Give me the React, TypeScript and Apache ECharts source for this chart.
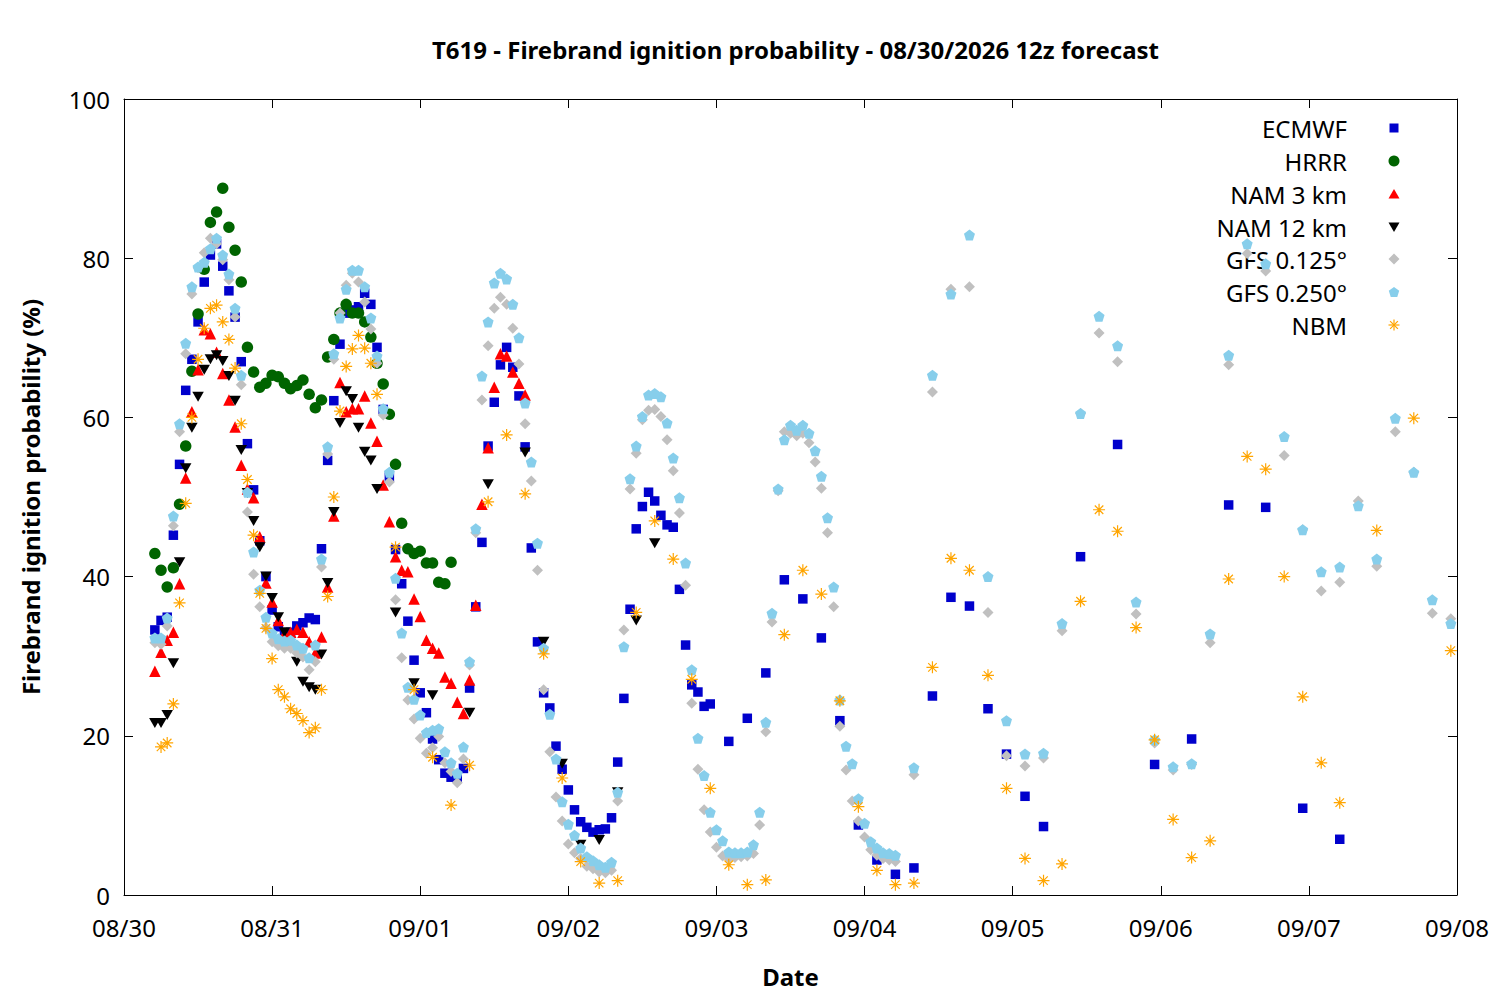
import React, { useEffect, useRef } from "react";
import * as echarts from "echarts";

// x axis: hours since 08/30 00:00 local; forecast hour 0 (12z) = 05:00 local
const runStartHour = 5;
const dateLabels = ["08/30", "08/31", "09/01", "09/02", "09/03", "09/04", "09/05", "09/06", "09/07", "09/08"];

// ECMWF: hourly f0..f90, then 3-hourly, then 6-hourly
const ecmwfHourly = [
  33.3, 34.5, 34.9, 45.2, 54.1, 63.4, 67.3, 72.0, 77.0, 80.4, 81.8, 79.0, 75.9, 72.6, 67.0, 56.7, 50.9, 44.5, 40.0, 35.8,
  33.7, 32.9, 33.0, 33.8, 34.2, 34.8, 34.6, 43.5, 54.6, 62.1, 69.2, 73.1, 73.5, 73.9, 75.6, 74.2, 68.8, 61.0, 52.5, 43.4,
  39.1, 34.4, 29.5, 25.4, 22.9, 19.6, 17.0, 15.3, 14.8, 14.8, 15.9, 26.0, 36.2, 44.3, 56.4, 61.9, 66.6, 68.8, 66.3, 62.7,
  56.3, 43.6, 31.8, 25.4, 23.5, 18.7, 15.8, 13.2, 10.7, 9.2, 8.5, 7.9, 8.2, 8.3, 9.7, 16.7, 24.7, 35.9, 46.0, 48.8,
  50.6, 49.5, 47.7, 46.5, 46.2, 38.4, 31.4, 26.4, 25.5, 23.7, 24.0,
];
const ecmwfLaterHours = [93, 96, 99, 102, 105, 108, 111, 114, 117, 120, 123, 126, 129, 132, 135, 138, 141, 144, 150, 156, 162, 168, 174, 180, 186, 192];
const ecmwfLaterValues = [19.3, 22.2, 27.9, 39.6, 37.2, 32.3, 21.9, 8.8, 4.4, 2.6, 3.4, 25.0, 37.4, 36.3, 23.4, 17.7, 12.4, 8.6, 42.5, 56.6, 16.4, 19.6, 49.0, 48.7, 10.9, 7.0];

// HRRR: hourly f0..f48
const hrrrValues = [
  42.9, 40.8, 38.7, 41.1, 49.1, 56.4, 65.8, 73.0, 78.6, 84.5, 85.8, 88.8, 83.9, 81.0, 77.0, 68.8, 65.7, 63.8, 64.3, 65.3,
  65.1, 64.3, 63.6, 64.0, 64.7, 62.9, 61.2, 62.2, 67.6, 69.8, 73.1, 74.2, 73.1, 73.1, 72.0, 70.1, 66.8, 64.2, 60.4, 54.1,
  46.7, 43.5, 42.9, 43.2, 41.7, 41.7, 39.3, 39.1, 41.8,
];

// NAM 3 km: hourly f0..f60
const nam3Values = [
  28.1, 30.5, 32.0, 33.0, 39.1, 52.4, 60.7, 66.0, 71.0, 70.5, 68.2, 65.5, 62.2, 58.8, 54.0, 51.0, 49.9, 45.0, 39.2, 36.8,
  34.5, 32.8, 33.0, 33.4, 33.0, 31.8, 30.4, 32.4, 38.7, 47.6, 64.4, 60.7, 61.1, 61.1, 62.7, 59.3, 57.0, 51.5, 46.9, 42.5,
  40.8, 40.6, 37.2, 35.0, 32.0, 31.0, 30.4, 27.4, 26.6, 24.2, 22.8, 27.0, 36.4, 49.1, 56.2, 63.8, 68.0, 67.7, 65.7, 64.3,
  62.8,
];

// NAM 12 km: hourly f0..f36, then 3-hourly
const nam12Hourly = [
  21.6, 21.6, 22.6, 29.1, 41.8, 53.6, 58.7, 62.6, 66.0, 67.3, 67.8, 67.1, 65.2, 62.1, 55.9, 50.5, 47.0, 43.7, 40.0, 37.3,
  34.9, 33.0, 31.0, 29.3, 26.8, 26.1, 25.8, 30.2, 39.2, 48.1, 59.3, 63.3, 62.3, 58.7, 55.7, 54.6, 51.0,
];
const nam12LaterHours = [39, 42, 45, 51, 54, 60, 63, 66, 69, 72, 75, 78, 81];
const nam12LaterValues = [35.5, 26.6, 25.1, 22.9, 51.6, 55.6, 31.8, 16.5, 6.3, 6.9, 12.9, 34.5, 44.2];

// GFS 0.125°: hourly f0..f120, then 3-hourly
const gfs125Hourly = [
  31.7, 31.5, 33.8, 46.4, 58.2, 68.0, 75.5, 78.8, 80.7, 82.5, 81.8, 79.8, 77.3, 72.6, 64.1, 48.1, 40.3, 36.2, 33.6, 31.8,
  31.3, 31.0, 31.0, 30.4, 29.9, 28.3, 29.3, 41.2, 55.4, 67.3, 73.1, 76.6, 78.1, 77.0, 74.5, 71.1, 66.8, 60.3, 51.9, 37.1,
  29.8, 24.5, 22.1, 19.7, 17.8, 18.5, 19.9, 16.6, 15.5, 14.1, 17.1, 28.9, 45.5, 62.2, 69.0, 73.7, 75.1, 74.2, 71.2, 66.7,
  59.2, 52.0, 40.8, 25.8, 18.0, 12.3, 9.3, 6.4, 5.3, 4.6, 3.6, 3.3, 2.9, 2.8, 3.1, 11.8, 33.3, 51.0, 55.5, 59.7,
  60.9, 61.0, 60.1, 57.2, 53.3, 48.0, 38.9, 24.1, 15.8, 10.7, 7.9, 6.0, 4.9, 4.6, 4.7, 4.8, 4.9, 5.2, 8.8, 20.5,
  34.3, 50.8, 58.2, 58.0, 57.7, 58.0, 56.8, 54.4, 51.1, 45.5, 36.2, 21.2, 15.7, 11.8, 9.3, 7.3, 5.7, 5.0, 4.6, 4.4,
  4.2,
];
const gfsLaterHours = [123, 126, 129, 132, 135, 138, 141, 144, 147, 150, 153, 156, 159, 162, 165, 168, 171, 174, 177, 180, 183, 186, 189, 192, 195, 198, 201, 204, 207, 210];
const gfs125Later = [15.1, 63.2, 76.1, 76.4, 35.5, 17.5, 16.2, 17.2, 33.2, 60.5, 70.6, 67.0, 35.3, 19.1, 15.7, 16.4, 31.7, 66.6, 80.6, 78.4, 55.2, 45.9, 38.2, 39.3, 49.5, 41.3, 58.2, 53.1, 35.4, 34.7];

// GFS 0.250°: hourly f0..f120, then 3-hourly
const gfs250Hourly = [
  32.3, 32.3, 34.8, 47.6, 59.2, 69.3, 76.4, 78.9, 79.5, 81.2, 82.5, 80.4, 78.0, 73.7, 65.3, 50.6, 43.1, 38.3, 34.9, 32.9,
  32.2, 31.9, 32.0, 31.4, 31.0, 29.8, 31.4, 42.2, 56.3, 68.0, 72.5, 76.1, 78.5, 78.5, 76.4, 72.5, 67.7, 61.1, 53.1, 39.8,
  32.9, 26.1, 24.6, 22.6, 20.4, 20.7, 20.9, 18.0, 16.6, 15.3, 18.6, 29.3, 46.0, 65.2, 72.0, 76.9, 78.1, 77.4, 74.2, 70.0,
  61.8, 54.4, 44.2, 31.0, 22.7, 17.1, 11.7, 8.9, 7.5, 5.9, 4.8, 4.3, 3.8, 3.5, 4.1, 12.9, 31.2, 52.3, 56.4, 60.1,
  62.8, 63.0, 62.6, 59.3, 54.9, 49.9, 41.7, 28.3, 19.7, 15.0, 10.4, 8.2, 6.8, 5.4, 5.3, 5.3, 5.4, 6.3, 10.4, 21.7,
  35.4, 51.0, 57.2, 59.0, 58.4, 59.0, 58.0, 55.8, 52.6, 47.4, 38.7, 24.5, 18.7, 16.5, 12.1, 9.0, 6.7, 5.9, 5.3, 5.2,
  5.0,
];
const gfs250Later = [16.0, 65.3, 75.5, 82.9, 40.0, 21.9, 17.7, 17.8, 34.1, 60.5, 72.7, 69.0, 36.8, 19.5, 16.1, 16.5, 32.8, 67.8, 81.8, 79.3, 57.6, 45.9, 40.6, 41.2, 48.9, 42.2, 59.9, 53.1, 37.1, 34.1];

// NBM: hourly f1..f36, then 3-hourly, then 6-hourly
const nbmHourly = [
  18.6, 19.1, 24.0, 36.7, 49.2, 60.0, 67.3, 71.2, 73.7, 74.1, 72.0, 69.8, 66.2, 59.2, 52.2, 45.2, 37.9, 33.5, 29.7, 25.8,
  24.9, 23.4, 22.8, 21.9, 20.4, 21.0, 25.8, 37.5, 50.0, 60.8, 66.4, 68.6, 70.3, 68.7, 66.8, 62.9,
];
const nbmLaterHours = [
  39, 42, 45, 48, 51, 54, 57, 60, 63, 66, 69, 72, 75, 78, 81, 84, 87, 90, 93, 96, 99, 102, 105, 108, 111, 114, 117, 120,
  123, 126, 129, 132, 135, 138, 141, 144, 147, 150, 153, 156, 159, 162, 165, 168, 171, 174, 177, 180, 183, 186, 189, 192,
  198, 204, 210,
];
const nbmLaterValues = [
  43.7, 25.8, 17.3, 11.3, 16.3, 49.4, 57.8, 50.4, 30.3, 14.7, 4.2, 1.5, 1.8, 35.5, 47.0, 42.2, 27.1, 13.4, 3.8, 1.3,
  1.9, 32.7, 40.8, 37.8, 24.4, 11.1, 3.1, 1.3, 1.5, 28.6, 42.3, 40.8, 27.6, 13.4, 4.6, 1.8, 3.9, 36.9, 48.4, 45.7,
  33.6, 19.5, 9.5, 4.7, 6.8, 39.7, 55.1, 53.5, 40.0, 24.9, 16.6, 11.6, 45.8, 59.9, 30.7,
];

const FONT = "Noto Sans";
const FS = 24;

const hourly = (values: number[], firstHour = 0) => values.map((v, i) => [firstHour + i + runStartHour, v]);
const stepped = (hours: number[], values: number[]) => hours.map((h, i) => [h + runStartHour, values[i]]);

const PENTAGON = "path://M5,0 L10,3.63 L8.09,9.51 L1.91,9.51 L0,3.63 Z";
const INV_TRI = "path://M0,0 L10,0 L5,8.66 Z";
const ASTERISK = "path://M0,5 L10,5 M5,0 L5,10 M1.46,1.46 L8.54,8.54 M1.46,8.54 L8.54,1.46";

const COLORS = {
  ecmwf: "#0000cc",
  hrrr: "#006400",
  nam3: "#ff0000",
  nam12: "#000000",
  gfs125: "#c0c0c0",
  gfs250: "#87ceeb",
  nbm: "#ffa500",
};

const legendNames = ["ECMWF", "HRRR", "NAM 3 km", "NAM 12 km", "GFS 0.125°", "GFS 0.250°", "NBM"];

function buildLegendGraphics() {
  const textX = 1347;
  const symX = 1394;
  const rows = [128, 161, 194, 227, 259, 292, 325];
  const els: any[] = [];
  legendNames.forEach((name, i) => {
    els.push({
      type: "text",
      x: textX,
      y: rows[i],
      style: { text: name, align: "right", verticalAlign: "middle", fontSize: FS, fontFamily: FONT, fill: "#000" },
    });
  });
  const y = rows;
  els.push({ type: "rect", shape: { x: symX - 4.5, y: y[0] - 4.5, width: 9, height: 9 }, style: { fill: COLORS.ecmwf } });
  els.push({ type: "circle", shape: { cx: symX, cy: y[1], r: 5.5 }, style: { fill: COLORS.hrrr } });
  els.push({ type: "polygon", shape: { points: [[symX - 5.5, y[2] + 4.5], [symX + 5.5, y[2] + 4.5], [symX, y[2] - 5]] }, style: { fill: COLORS.nam3 } });
  els.push({ type: "polygon", shape: { points: [[symX - 5.5, y[3] - 4.5], [symX + 5.5, y[3] - 4.5], [symX, y[3] + 5]] }, style: { fill: COLORS.nam12 } });
  els.push({ type: "polygon", shape: { points: [[symX, y[4] - 5.5], [symX + 5.5, y[4]], [symX, y[4] + 5.5], [symX - 5.5, y[4]]] }, style: { fill: COLORS.gfs125 } });
  const r = 5.5;
  const pent = [0, 1, 2, 3, 4].map((k) => {
    const a = (-90 + k * 72) * (Math.PI / 180);
    return [symX + r * Math.cos(a), y[5] + 0.5 + r * Math.sin(a)];
  });
  els.push({ type: "polygon", shape: { points: pent }, style: { fill: COLORS.gfs250 } });
  const c = y[6];
  const L = 5.5;
  const d = 3.9;
  const lines = [
    [symX - L, c, symX + L, c],
    [symX, c - L, symX, c + L],
    [symX - d, c - d, symX + d, c + d],
    [symX - d, c + d, symX + d, c - d],
  ];
  lines.forEach(([x1, y1, x2, y2]) => {
    els.push({ type: "line", shape: { x1, y1, x2, y2 }, style: { stroke: COLORS.nbm, lineWidth: 1.2 } });
  });
  return els;
}

export default function App() {
  const ref = useRef<HTMLDivElement>(null);

  useEffect(() => {
    document.body.style.margin = "0";
    if (!ref.current) return;
    const chart = echarts.init(ref.current, undefined, { renderer: "svg" });

    const axisCommonX = {
      type: "value" as const,
      min: 0,
      max: 216,
      interval: 24,
      splitLine: { show: false },
      axisLine: { show: true, onZero: false, lineStyle: { color: "#000", width: 1 } },
      axisTick: { show: true, inside: true, length: 9, lineStyle: { color: "#000", width: 1 } },
    };
    const axisCommonY = {
      type: "value" as const,
      min: 0,
      max: 100,
      interval: 20,
      splitLine: { show: false },
      axisLine: { show: true, onZero: false, lineStyle: { color: "#000", width: 1 } },
      axisTick: { show: true, inside: true, length: 9, lineStyle: { color: "#000", width: 1 } },
    };

    const scatter = (name: string, data: number[][], symbol: string, size: any, color: string, extra: any = {}) => ({
      name,
      type: "scatter",
      data,
      symbol,
      symbolSize: size,
      itemStyle: { color, opacity: 1, ...(extra.itemStyle || {}) },
      emphasis: { disabled: true },
    });

    const option: any = {
      animation: false,
      backgroundColor: "#fff",
      title: {
        text: "T619 - Firebrand ignition probability - 08/30/2026 12z forecast",
        left: 790.5,
        top: 32,
        textAlign: "center",
        textStyle: { fontFamily: FONT, fontSize: FS, fontWeight: "bold", color: "#000" },
      },
      grid: { left: 124, right: 43, top: 99, bottom: 105, containLabel: false, show: false },
      xAxis: [
        {
          ...axisCommonX,
          position: "bottom",
          name: "Date",
          nameLocation: "middle",
          nameGap: 69,
          nameTextStyle: { fontFamily: FONT, fontSize: FS, fontWeight: "bold", color: "#000" },
          axisLabel: {
            color: "#000",
            fontFamily: FONT,
            fontSize: FS,
            margin: 20,
            formatter: (v: number) => dateLabels[Math.round(v / 24)] ?? "",
          },
        },
        { ...axisCommonX, position: "top", axisLabel: { show: false } },
      ],
      yAxis: [
        {
          ...axisCommonY,
          position: "left",
          name: "Firebrand ignition probability (%)",
          nameLocation: "middle",
          nameGap: 82,
          nameTextStyle: { fontFamily: FONT, fontSize: FS, fontWeight: "bold", color: "#000" },
          axisLabel: { color: "#000", fontFamily: FONT, fontSize: FS, margin: 14 },
        },
        { ...axisCommonY, position: "right", axisLabel: { show: false } },
      ],
      graphic: buildLegendGraphics(),
      series: [
        scatter("ECMWF", [...hourly(ecmwfHourly), ...stepped(ecmwfLaterHours, ecmwfLaterValues)], "rect", 9.5, COLORS.ecmwf),
        scatter("HRRR", hourly(hrrrValues), "circle", 11.5, COLORS.hrrr),
        scatter("NAM 3 km", hourly(nam3Values), "triangle", 11.5, COLORS.nam3),
        scatter("NAM 12 km", [...hourly(nam12Hourly), ...stepped(nam12LaterHours, nam12LaterValues)], INV_TRI, [11.5, 10], COLORS.nam12),
        scatter("GFS 0.125°", [...hourly(gfs125Hourly), ...stepped(gfsLaterHours, gfs125Later)], "diamond", 11, COLORS.gfs125),
        scatter("GFS 0.250°", [...hourly(gfs250Hourly), ...stepped(gfsLaterHours, gfs250Later)], PENTAGON, 11, COLORS.gfs250),
        scatter("NBM", [...hourly(nbmHourly, 1), ...stepped(nbmLaterHours, nbmLaterValues)], ASTERISK, 12, "rgba(0,0,0,0)", {
          itemStyle: { borderColor: COLORS.nbm, borderWidth: 1.2 },
        }),
      ],
    };

    chart.setOption(option);
    return () => chart.dispose();
  }, []);

  return <div ref={ref} style={{ width: 1500, height: 1000 }} />;
}
